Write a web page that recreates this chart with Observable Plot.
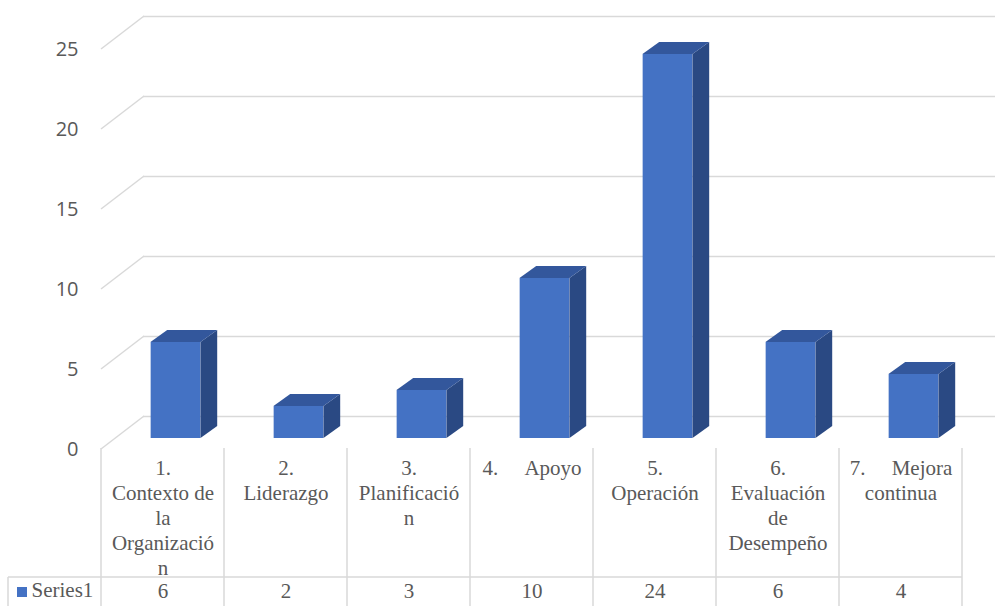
<!DOCTYPE html>
<html>
<head>
<meta charset="utf-8">
<script src="https://cdn.jsdelivr.net/npm/d3@7"></script>
<script src="https://cdn.jsdelivr.net/npm/@observablehq/plot@0.6"></script>
<style>
  html, body { margin: 0; padding: 0; background: #ffffff; }
  #chart { width: 995px; height: 606px; }
</style>
</head>
<body>
<div id="chart"></div>
<script>
// Clauses of the standard and the number of findings in each
const categories = [
  "1. Contexto de la Organización",
  "2. Liderazgo",
  "3. Planificación",
  "4. Apoyo",
  "5. Operación",
  "6. Evaluación de Desempeño",
  "7. Mejora continua"
];
// How each category name wraps inside its data-table cell
const categoryLines = [
  "1.\nContexto de\nla\nOrganizació\nn",
  "2.\nLiderazgo",
  "3.\nPlanificació\nn",
  "4.\u00a0\u00a0\u00a0\u00a0\u00a0Apoyo",
  "5.\nOperación",
  "6.\nEvaluación\nde\nDesempeño",
  "7.\u00a0\u00a0\u00a0\u00a0\u00a0Mejora\ncontinua"
];
const values = [6, 2, 3, 10, 24, 6, 4];
const seriesName = "Series1";
const yTicks = [0, 5, 10, 15, 20, 25];

// Styling
const FRONT = "#4472C4", TOP = "#33579C", SIDE = "#2A4983";
const GRID = "#d9d9d9", TEXT = "#595959";
const SERIF = "'Liberation Serif', 'Times New Roman', serif";

// Oblique projection: wall depth and bar depth (pixels)
const WALL_DX = 43, WALL_DY = -33;
const BAR_W = 50, BAR_DX = 16.7, BAR_DY = -12;
const BAR_SHIFT_X = 13, BAR_SHIFT_Y = -11;
const TABLE_TOP = 448, TABLE_ROW = 577, TABLE_LEFT = 8;

// Diagonal gridlines on the left side wall
function sideWall(index, {x, y}) {
  const g = d3.create("svg:g").attr("stroke", GRID).attr("stroke-width", 1.5).attr("fill", "none");
  const x0 = x(categories[0]);
  for (const v of yTicks) {
    g.append("line")
      .attr("x1", x0).attr("y1", y(v))
      .attr("x2", x0 + WALL_DX).attr("y2", y(v) + WALL_DY);
  }
  return g.node();
}

// Side and top faces of each 3D column
function columnFaces(index, {x, y}) {
  const g = d3.create("svg:g");
  const bw = x.bandwidth ? x.bandwidth() : x(categories[1]) - x(categories[0]);
  categories.forEach((c, i) => {
    const xl = x(c) + (bw - BAR_W) / 2 + BAR_SHIFT_X;
    const xr = xl + BAR_W;
    const yb = y(0) + BAR_SHIFT_Y;
    const yt = y(values[i]) + BAR_SHIFT_Y;
    g.append("polygon").attr("fill", SIDE).attr("points", [
      [xr, yb], [xr + BAR_DX, yb + BAR_DY], [xr + BAR_DX, yt + BAR_DY], [xr, yt]
    ].join(" "));
    g.append("polygon").attr("fill", TOP).attr("points", [
      [xl, yt], [xr, yt], [xr + BAR_DX, yt + BAR_DY], [xl + BAR_DX, yt + BAR_DY]
    ].join(" "));
  });
  return g.node();
}

// Data table grid and legend swatch
function tableGrid(index, {x}, values_, dims) {
  const g = d3.create("svg:g").attr("stroke", GRID).attr("stroke-width", 1.5);
  const bw = x.bandwidth ? x.bandwidth() : x(categories[1]) - x(categories[0]);
  const edges = categories.map(c => x(c)).concat([x(categories[categories.length - 1]) + bw]);
  for (const e of edges) {
    g.append("line").attr("x1", e).attr("x2", e).attr("y1", TABLE_TOP).attr("y2", dims.height);
  }
  g.append("line").attr("x1", TABLE_LEFT).attr("x2", edges[edges.length - 1])
    .attr("y1", TABLE_ROW).attr("y2", TABLE_ROW);
  g.append("line").attr("x1", TABLE_LEFT).attr("x2", TABLE_LEFT)
    .attr("y1", TABLE_ROW).attr("y2", dims.height);
  g.append("rect").attr("stroke", "none").attr("fill", FRONT)
    .attr("x", 17).attr("y", 587).attr("width", 10).attr("height", 10);
  return g.node();
}

const rows = categories.map((c, i) => ({cat: c, value: values[i], lines: categoryLines[i]}));

const chart = Plot.plot({
  width: 995,
  height: 606,
  marginLeft: 143,
  marginRight: 0,
  marginTop: 0,
  marginBottom: 0,
  style: {fontFamily: "'Open Sans', sans-serif", fontSize: "20px", color: TEXT, background: "#ffffff"},
  x: {type: "band", domain: categories, range: [100, 963], padding: 0, axis: null},
  y: {domain: [0, 25], range: [449, 49], ticks: 5, tickSize: 0, tickPadding: 65, label: null, tickFormat: d => String(d)},
  marks: [
    Plot.ruleY(yTicks, {dy: WALL_DY, stroke: GRID, strokeWidth: 1.5}),
    sideWall,
    Plot.barY(rows, {
      x: "cat", y: "value", fill: FRONT,
      insetLeft: 36.65, insetRight: 36.65, dx: BAR_SHIFT_X, dy: BAR_SHIFT_Y
    }),
    columnFaces,
    tableGrid,
    Plot.text(rows, {
      x: "cat", text: "lines", frameAnchor: "top", lineAnchor: "top", dy: 457,
      lineHeight: 1.19, fontFamily: SERIF, fontSize: 21, fill: TEXT
    }),
    Plot.text(rows, {
      x: "cat", text: d => String(d.value), frameAnchor: "bottom", dy: -9,
      fontFamily: SERIF, fontSize: 21, fill: TEXT
    }),
    Plot.text([seriesName], {
      text: d => d, frameAnchor: "bottom-left", textAnchor: "start", dx: -112, dy: -10,
      fontFamily: SERIF, fontSize: 21, fill: TEXT
    })
  ]
});

document.getElementById("chart").appendChild(chart);
</script>
</body>
</html>
